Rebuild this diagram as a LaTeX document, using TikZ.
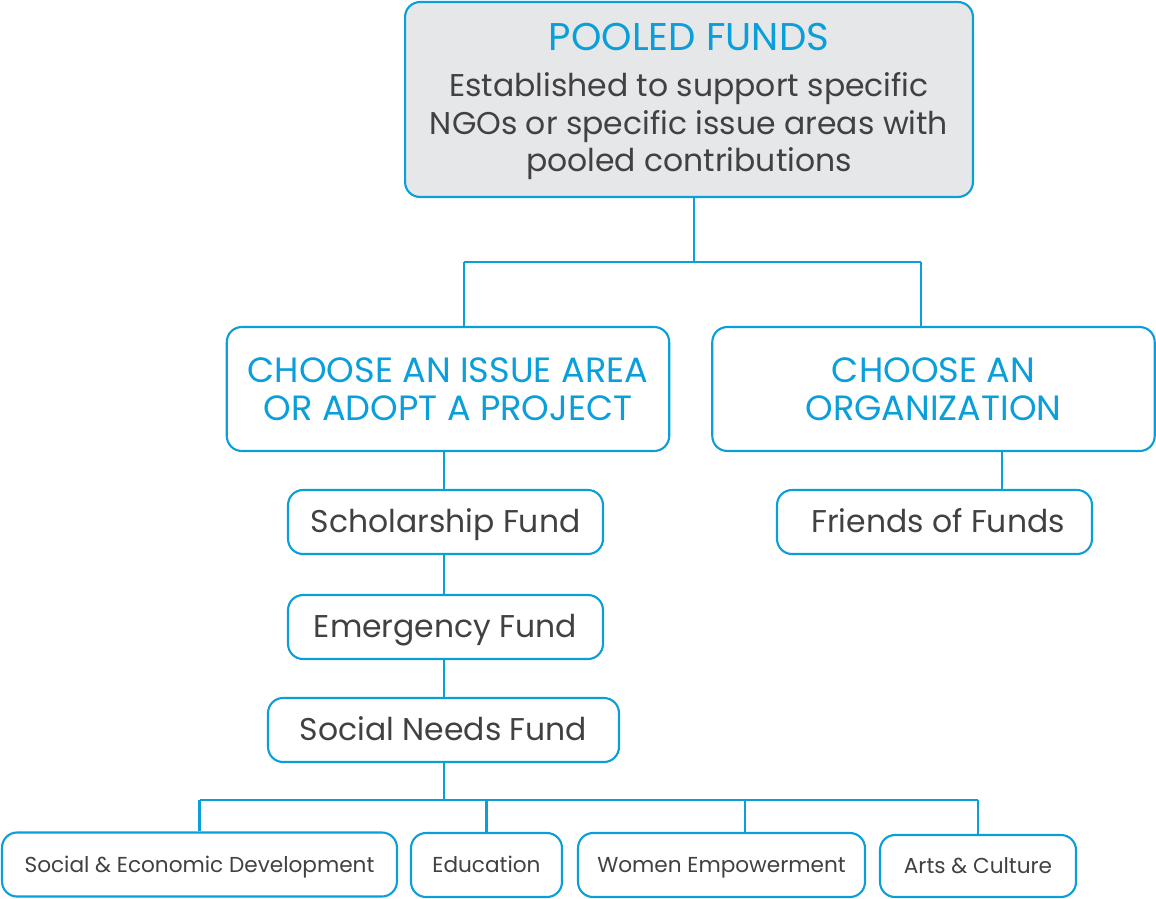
\documentclass[tikz,border=0pt]{standalone}
\usepackage{fontspec}
\setmainfont{Poppins}
\definecolor{fundblue}{HTML}{0A9FDA}
\definecolor{fundgrey}{HTML}{E6E7E8}
\definecolor{fundtext}{HTML}{414042}

\begin{document}
\begin{tikzpicture}[x=0.02cm,y=-0.02cm,line width=1.2pt,
    box/.style={draw=fundblue, rounded corners=0.3cm, align=center, inner sep=0pt, text=fundtext},
    small/.style={box, minimum height=1.28cm, text height=12.5pt, text depth=0.5pt, font=\fontsize{17.9}{21}\selectfont},
    tiny/.style={box, minimum height=1.28cm, text height=8.6pt, text depth=0pt, font=\fontsize{12.3}{14}\selectfont},
    head/.style={box, minimum height=2.48cm, minimum width=8.85cm, text=fundblue, font=\fontsize{20}{21.6}\selectfont}]
      \useasboundingbox (0,0) rectangle (1156,899);

        % Top node
        \node[box, fill=fundgrey, minimum width=11.36cm, minimum height=3.9cm, font=\fontsize{17.9}{21.3}\selectfont] (pf) at (689, 99.5)
          {\rule{0pt}{18pt}\textcolor{fundblue}{\fontsize{22}{24}\selectfont POOLED FUNDS}\\[4.7pt]
           Established to support specific\\ NGOs or specific issue areas with\\ pooled contributions};

        % Choices
        \node[head] (issue) at (448, 389) {CHOOSE AN ISSUE AREA\\ OR ADOPT A PROJECT};
        \node[head] (org) at (933.5, 389) {CHOOSE AN\\ ORGANIZATION};

        % Funds
        \node[small, minimum width=6.3cm] (s0) at (445.5, 522) {Scholarship Fund};
        \node[small, minimum width=6.3cm] (s1) at (445.5, 627) {Emergency Fund};
        \node[small, minimum width=7.02cm] (s2) at (443.5, 730) {Social Needs Fund};
        \node[small, minimum width=6.3cm] (fr) at (934.5, 522) {\hspace{4pt}Friends of Funds};

        % Areas
        \node[tiny, minimum width=7.9cm] (c0) at (199.5, 864.5) {Social \& Economic Development};
        \node[tiny, minimum width=3.02cm] (c1) at (486.5, 865) {Education};
        \node[tiny, minimum width=5.74cm] (c2) at (721.5, 865) {Women Empowerment};
        \node[tiny, minimum width=3.92cm, minimum height=1.24cm] (c3) at (978, 866) {Arts \& Culture};

        % Joints
        \coordinate (j0) at (694, 262);
        \coordinate (j1) at (464, 262);
        \coordinate (j2) at (921, 262);
        \coordinate (k0) at (1002, 470);
        \coordinate (j3) at (444, 800);
        \coordinate (j4) at (745, 800);

        \draw[fundblue] (pf.south -| j0) -- (j0);
        \draw[fundblue] (j1) -- (j2);
        \draw[fundblue] (j1) -- (issue.north -| j1);
        \draw[fundblue] (j2) -- (org.north -| j2);
        \draw[fundblue] (org.south -| k0) -- (fr.north -| k0);

        \draw[fundblue] (issue.south -| j3) -- (s0.north -| j3);
        \draw[fundblue] (s0.south -| j3) -- (s1.north -| j3);
        \draw[fundblue] (s1.south -| j3) -- (s2.north -| j3);
        \draw[fundblue] (s2.south -| j3) -- (j3);

        \draw[fundblue] (c0.north |- j3) -- (c3.north |- j3);
        \draw[fundblue] (c0.north |- j3) -- (c0.north);
        \draw[fundblue] (c1.north |- j3) -- (c1.north);
        \draw[fundblue] (j4) -- (c2.north -| j4);
        \draw[fundblue] (c3.north |- j3) -- (c3.north);

    \end{tikzpicture}
\end{document}
